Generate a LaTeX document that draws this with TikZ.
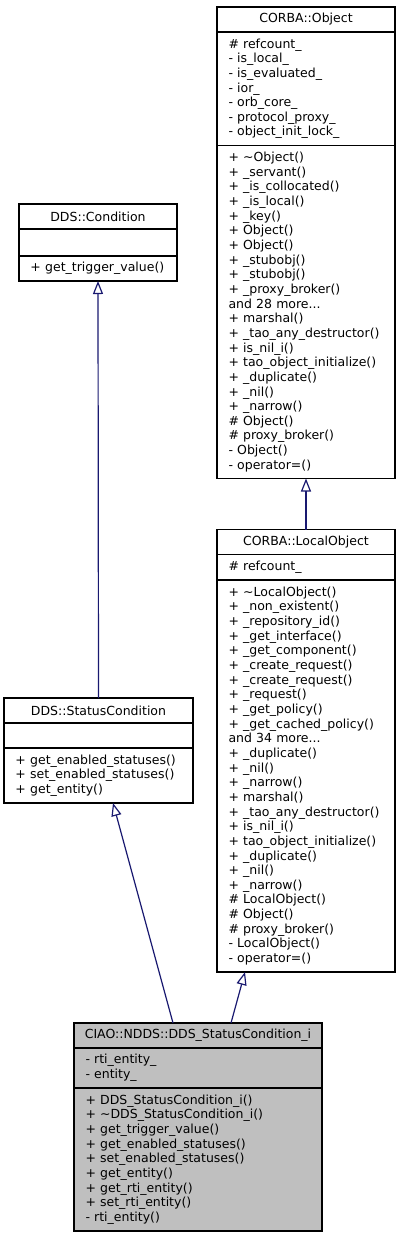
\documentclass[tikz,border=0pt]{standalone}
\usepackage{fontspec}
\setmainfont{DejaVu Sans}
\usepackage{tikz}
\usetikzlibrary{positioning}
\usetikzlibrary{arrows.meta}
\definecolor{edgeblue}{RGB}{25,25,112}
\definecolor{implgray}{RGB}{191,191,191}

\begin{document}
\begin{tikzpicture}[x = 1pt, y = -1pt, font = \fontsize{12.5}{14.65}\selectfont,
  title/.style = {draw, line width = 1.2pt, outer sep = 0pt, inner sep = 0pt, minimum height = 25pt},
  field/.style = {draw, line width = 1.2pt, outer sep = 0pt, inner xsep = 11.5pt, inner ysep = 0pt, align = left},
  inherit/.style = {draw = edgeblue, line width = 1.2pt, ->, >={Triangle[open, length = 13pt, width = 10pt]}}]
\useasboundingbox (0, 0) rectangle (401, 1237);

\node[title, minimum width = 178pt] (obj) at (306, 19.5) {CORBA::Object};
\node[field, below = 0pt of obj, text width = 155pt, minimum height = 113.5pt] (obj-a)
  {\# refcount\_\\- is\_local\_\\- is\_evaluated\_\\- ior\_\\- orb\_core\_\\- protocol\_proxy\_\\- object\_init\_lock\_};
\node[field, below = 0pt of obj-a, text width = 155pt, minimum height = 333pt] (obj-o)
  {+ \textasciitilde Object()\\+ \_servant()\\+ \_is\_collocated()\\+ \_is\_local()\\+ \_key()\\+ Object()\\+ Object()\\+ \_stubobj()\\+ \_stubobj()\\+ \_proxy\_broker()\\and 28 more...\\+ marshal()\\+ \_tao\_any\_destructor()\\+ is\_nil\_i()\\+ tao\_object\_initialize()\\+ \_duplicate()\\+ \_nil()\\+ \_narrow()\\\# Object()\\\# proxy\_broker()\\- Object()\\- operator=()};

\node[title, minimum width = 178pt] (lobj) at (306, 542) {CORBA::LocalObject};
\node[field, below = 0pt of lobj, text width = 155pt, minimum height = 25.5pt] (lobj-a) {\# refcount\_};
\node[field, below = 0pt of lobj-a, text width = 155pt, minimum height = 392pt] (lobj-o)
  {+ \textasciitilde LocalObject()\\+ \_non\_existent()\\+ \_repository\_id()\\+ \_get\_interface()\\+ \_get\_component()\\+ \_create\_request()\\+ \_create\_request()\\+ \_request()\\+ \_get\_policy()\\+ \_get\_cached\_policy()\\and 34 more...\\+ \_duplicate()\\+ \_nil()\\+ \_narrow()\\+ marshal()\\+ \_tao\_any\_destructor()\\+ is\_nil\_i()\\+ tao\_object\_initialize()\\+ \_duplicate()\\+ \_nil()\\+ \_narrow()\\\# LocalObject()\\\# Object()\\\# proxy\_broker()\\- LocalObject()\\- operator=()};

\node[title, minimum width = 158pt] (cond) at (98, 216.5) {DDS::Condition};
\node[field, below = 0pt of cond, text width = 135pt, minimum height = 27pt] (cond-a) {};
\node[field, below = 0pt of cond-a, text width = 135pt, minimum height = 25pt] (cond-o) {+ get\_trigger\_value()};

\node[title, minimum width = 189pt] (stat) at (98.5, 710.5) {DDS::StatusCondition};
\node[field, below = 0pt of stat, text width = 166pt, minimum height = 25pt] (stat-a) {};
\node[field, below = 0pt of stat-a, text width = 166pt, minimum height = 55pt] (stat-o)
  {+ get\_enabled\_statuses()\\+ set\_enabled\_statuses()\\+ get\_entity()};

\node[title, fill = implgray, minimum width = 248pt] (impl) at (198, 1035.5) {CIAO::NDDS::DDS\_StatusCondition\_i};
\node[field, fill = implgray, below = 0pt of impl, text width = 225pt, minimum height = 40pt] (impl-a)
  {- rti\_entity\_\\- entity\_};
\node[field, fill = implgray, below = 0pt of impl-a, text width = 225pt, minimum height = 143pt] (impl-o)
  {+ DDS\_StatusCondition\_i()\\+ \textasciitilde DDS\_StatusCondition\_i()\\+ get\_trigger\_value()\\+ get\_enabled\_statuses()\\+ set\_enabled\_statuses()\\+ get\_entity()\\+ get\_rti\_entity()\\+ set\_rti\_entity()\\- rti\_entity()};

\draw[inherit] (stat.north) -- (cond-o.south);
\draw[inherit] (lobj.north) -- (obj-o.south);
\draw[inherit] ([xshift = -25pt]impl.north) -- ([xshift = 14.5pt]stat-o.south);
\draw[inherit] ([xshift = 33pt]impl.north) -- ([xshift = -61pt]lobj-o.south);
\end{tikzpicture}
\end{document}
